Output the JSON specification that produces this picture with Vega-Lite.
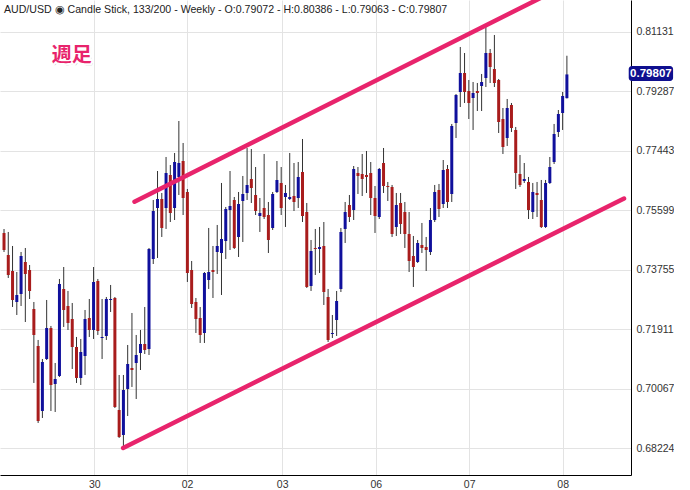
{
  "$schema": "https://vega.github.io/schema/vega-lite/v6.json",
  "width": 631,
  "height": 475,
  "padding": 0,
  "background": "white",
  "title": {
    "text": "AUD/USD  ◉  Candle Stick, 133/200 - Weekly - O:0.79072 - H:0.80386 - L:0.79063 - C:0.79807",
    "anchor": "start",
    "frame": "group",
    "offset": -16,
    "dx": 4,
    "font": "Liberation Sans",
    "fontSize": 10.6,
    "fontWeight": "normal",
    "color": "#222"
  },
  "config": {
    "view": {"stroke": null},
    "axis": {
      "grid": true,
      "gridColor": "#e3e3e3",
      "domainColor": "#000",
      "ticks": false,
      "tickSize": 0,
      "labelFont": "Liberation Sans",
      "labelFontSize": 10.5,
      "labelColor": "#333"
    },
    "axisX": {"labelPadding": 4},
    "axisY": {"labelPadding": 5}
  },
  "datasets": {
    "candles": [
      {"i":0,"o":0.74894,"h":0.75018,"l":0.74306,"c":0.74368},
      {"i":1,"o":0.74213,"h":0.74926,"l":0.73501,"c":0.73594},
      {"i":2,"o":0.73717,"h":0.74492,"l":0.72602,"c":0.72819},
      {"i":3,"o":0.72757,"h":0.73686,"l":0.72354,"c":0.72974},
      {"i":4,"o":0.73005,"h":0.74306,"l":0.72633,"c":0.74182},
      {"i":5,"o":0.73996,"h":0.7443,"l":0.72137,"c":0.73625},
      {"i":6,"o":0.73748,"h":0.73903,"l":0.7285,"c":0.73098},
      {"i":7,"o":0.7254,"h":0.72757,"l":0.70248,"c":0.71735},
      {"i":8,"o":0.71394,"h":0.7158,"l":0.69009,"c":0.6907},
      {"i":9,"o":0.6938,"h":0.70991,"l":0.69163,"c":0.70898},
      {"i":10,"o":0.70991,"h":0.72819,"l":0.7096,"c":0.71952},
      {"i":11,"o":0.71952,"h":0.72014,"l":0.6938,"c":0.70186},
      {"i":12,"o":0.70217,"h":0.70867,"l":0.69349,"c":0.70372},
      {"i":13,"o":0.70465,"h":0.7347,"l":0.70434,"c":0.73315},
      {"i":14,"o":0.7316,"h":0.73841,"l":0.71983,"c":0.72509},
      {"i":15,"o":0.72633,"h":0.73098,"l":0.7189,"c":0.72107},
      {"i":16,"o":0.7223,"h":0.72726,"l":0.70681,"c":0.71363},
      {"i":17,"o":0.71363,"h":0.71673,"l":0.70248,"c":0.70403},
      {"i":18,"o":0.70403,"h":0.71611,"l":0.70186,"c":0.71208},
      {"i":19,"o":0.71084,"h":0.72509,"l":0.70496,"c":0.7223},
      {"i":20,"o":0.72261,"h":0.7285,"l":0.71673,"c":0.7189},
      {"i":21,"o":0.7189,"h":0.73841,"l":0.71611,"c":0.73377},
      {"i":22,"o":0.73408,"h":0.7347,"l":0.71735,"c":0.71859},
      {"i":23,"o":0.71642,"h":0.7285,"l":0.70991,"c":0.71673},
      {"i":24,"o":0.71704,"h":0.72912,"l":0.7158,"c":0.7285},
      {"i":25,"o":0.72819,"h":0.73284,"l":0.72447,"c":0.7285},
      {"i":26,"o":0.72881,"h":0.72912,"l":0.69473,"c":0.69504},
      {"i":27,"o":0.69411,"h":0.70496,"l":0.68544,"c":0.68575},
      {"i":28,"o":0.68637,"h":0.70496,"l":0.68265,"c":0.70031},
      {"i":29,"o":0.70062,"h":0.71425,"l":0.69225,"c":0.70836},
      {"i":30,"o":0.70712,"h":0.72416,"l":0.70124,"c":0.7065},
      {"i":31,"o":0.70867,"h":0.71735,"l":0.69752,"c":0.71115},
      {"i":32,"o":0.71177,"h":0.7189,"l":0.7065,"c":0.71456},
      {"i":33,"o":0.71456,"h":0.72602,"l":0.71146,"c":0.7127},
      {"i":34,"o":0.71301,"h":0.7443,"l":0.71115,"c":0.74399},
      {"i":35,"o":0.74089,"h":0.75917,"l":0.73934,"c":0.75576},
      {"i":36,"o":0.75669,"h":0.76815,"l":0.7412,"c":0.75948},
      {"i":37,"o":0.75948,"h":0.76134,"l":0.74771,"c":0.7505},
      {"i":38,"o":0.75669,"h":0.77249,"l":0.75019,"c":0.76754},
      {"i":39,"o":0.76692,"h":0.77001,"l":0.75235,"c":0.75514},
      {"i":40,"o":0.75669,"h":0.77373,"l":0.75297,"c":0.77094},
      {"i":41,"o":0.7663,"h":0.78364,"l":0.76072,"c":0.77063},
      {"i":42,"o":0.77125,"h":0.77683,"l":0.75452,"c":0.75979},
      {"i":43,"o":0.76165,"h":0.76258,"l":0.73377,"c":0.73656},
      {"i":44,"o":0.73748,"h":0.74027,"l":0.72571,"c":0.72695},
      {"i":45,"o":0.72757,"h":0.72881,"l":0.71797,"c":0.7223},
      {"i":46,"o":0.72261,"h":0.72602,"l":0.71487,"c":0.71735},
      {"i":47,"o":0.71797,"h":0.73686,"l":0.71487,"c":0.73656},
      {"i":48,"o":0.73439,"h":0.7505,"l":0.7316,"c":0.73686},
      {"i":49,"o":0.73748,"h":0.74492,"l":0.72881,"c":0.73686},
      {"i":50,"o":0.74306,"h":0.75143,"l":0.73625,"c":0.74492},
      {"i":51,"o":0.74275,"h":0.76444,"l":0.72974,"c":0.74709},
      {"i":52,"o":0.74647,"h":0.757,"l":0.74089,"c":0.75638},
      {"i":53,"o":0.75607,"h":0.76815,"l":0.74368,"c":0.75731},
      {"i":54,"o":0.75917,"h":0.7601,"l":0.74399,"c":0.7443},
      {"i":55,"o":0.74771,"h":0.76165,"l":0.74151,"c":0.75793},
      {"i":56,"o":0.75886,"h":0.76661,"l":0.74616,"c":0.76103},
      {"i":57,"o":0.76134,"h":0.77528,"l":0.75917,"c":0.76382},
      {"i":58,"o":0.76568,"h":0.77497,"l":0.75824,"c":0.76289},
      {"i":59,"o":0.76072,"h":0.76939,"l":0.75452,"c":0.75576},
      {"i":60,"o":0.75421,"h":0.75979,"l":0.74926,"c":0.75514},
      {"i":61,"o":0.75669,"h":0.77342,"l":0.75328,"c":0.7539},
      {"i":62,"o":0.75452,"h":0.75855,"l":0.74275,"c":0.74678},
      {"i":63,"o":0.7505,"h":0.76165,"l":0.74988,"c":0.76103},
      {"i":64,"o":0.76165,"h":0.77125,"l":0.76134,"c":0.76537},
      {"i":65,"o":0.76444,"h":0.76939,"l":0.75452,"c":0.75669},
      {"i":66,"o":0.7601,"h":0.76382,"l":0.75081,"c":0.76134},
      {"i":67,"o":0.75948,"h":0.77373,"l":0.75917,"c":0.7601},
      {"i":68,"o":0.76041,"h":0.77063,"l":0.75576,"c":0.75855},
      {"i":69,"o":0.75979,"h":0.77094,"l":0.75669,"c":0.7663},
      {"i":70,"o":0.76784,"h":0.77807,"l":0.75235,"c":0.75421},
      {"i":71,"o":0.75545,"h":0.75824,"l":0.73191,"c":0.73222},
      {"i":72,"o":0.73253,"h":0.74678,"l":0.73098,"c":0.74337},
      {"i":73,"o":0.7443,"h":0.75019,"l":0.73594,"c":0.74399},
      {"i":74,"o":0.74399,"h":0.75081,"l":0.73656,"c":0.74461},
      {"i":75,"o":0.74492,"h":0.75235,"l":0.72664,"c":0.73067},
      {"i":76,"o":0.72912,"h":0.7316,"l":0.71518,"c":0.7158},
      {"i":77,"o":0.71766,"h":0.72354,"l":0.71642,"c":0.71797},
      {"i":78,"o":0.72199,"h":0.73098,"l":0.71704,"c":0.72788},
      {"i":79,"o":0.7316,"h":0.7505,"l":0.73067,"c":0.74926},
      {"i":80,"o":0.75019,"h":0.75855,"l":0.74585,"c":0.75545},
      {"i":81,"o":0.75762,"h":0.76072,"l":0.75235,"c":0.7539},
      {"i":82,"o":0.75607,"h":0.7697,"l":0.75297,"c":0.76877},
      {"i":83,"o":0.76754,"h":0.76939,"l":0.76103,"c":0.76661},
      {"i":84,"o":0.76723,"h":0.77342,"l":0.76041,"c":0.76568},
      {"i":85,"o":0.76692,"h":0.77435,"l":0.76134,"c":0.7663},
      {"i":86,"o":0.76754,"h":0.77094,"l":0.75452,"c":0.75979},
      {"i":87,"o":0.75979,"h":0.76351,"l":0.74895,"c":0.75421},
      {"i":88,"o":0.7539,"h":0.76908,"l":0.75328,"c":0.76877},
      {"i":89,"o":0.77063,"h":0.77528,"l":0.76134,"c":0.76351},
      {"i":90,"o":0.76351,"h":0.76475,"l":0.75886,"c":0.7632},
      {"i":91,"o":0.7632,"h":0.76382,"l":0.74771,"c":0.74864},
      {"i":92,"o":0.75081,"h":0.76134,"l":0.74802,"c":0.75762},
      {"i":93,"o":0.75824,"h":0.76134,"l":0.74864,"c":0.75174},
      {"i":94,"o":0.75545,"h":0.75855,"l":0.7443,"c":0.74864},
      {"i":95,"o":0.74864,"h":0.75545,"l":0.73686,"c":0.74027},
      {"i":96,"o":0.74182,"h":0.74802,"l":0.73222,"c":0.73841},
      {"i":97,"o":0.73996,"h":0.74678,"l":0.73965,"c":0.74585},
      {"i":98,"o":0.74523,"h":0.75205,"l":0.74275,"c":0.7443},
      {"i":99,"o":0.74461,"h":0.74771,"l":0.73717,"c":0.74368},
      {"i":100,"o":0.74306,"h":0.75669,"l":0.74213,"c":0.75297},
      {"i":101,"o":0.75297,"h":0.76382,"l":0.75235,"c":0.76165},
      {"i":102,"o":0.76227,"h":0.76413,"l":0.7539,"c":0.75638},
      {"i":103,"o":0.75793,"h":0.77156,"l":0.75669,"c":0.76846},
      {"i":104,"o":0.76877,"h":0.77001,"l":0.75669,"c":0.75855},
      {"i":105,"o":0.76103,"h":0.78272,"l":0.75855,"c":0.7821},
      {"i":106,"o":0.78303,"h":0.79201,"l":0.77838,"c":0.7917},
      {"i":107,"o":0.79263,"h":0.80657,"l":0.78798,"c":0.79852},
      {"i":108,"o":0.79852,"h":0.80471,"l":0.78922,"c":0.79263},
      {"i":109,"o":0.79294,"h":0.79635,"l":0.78426,"c":0.78922},
      {"i":110,"o":0.79077,"h":0.79573,"l":0.78086,"c":0.79232},
      {"i":111,"o":0.79294,"h":0.79542,"l":0.78674,"c":0.79232},
      {"i":112,"o":0.79449,"h":0.79821,"l":0.78674,"c":0.79573},
      {"i":113,"o":0.79697,"h":0.81308,"l":0.79418,"c":0.80471},
      {"i":114,"o":0.80471,"h":0.80595,"l":0.79542,"c":0.80037},
      {"i":115,"o":0.79975,"h":0.81029,"l":0.79418,"c":0.79542},
      {"i":116,"o":0.79635,"h":0.79666,"l":0.77993,"c":0.78333},
      {"i":117,"o":0.78426,"h":0.78767,"l":0.77342,"c":0.77559},
      {"i":118,"o":0.77838,"h":0.79046,"l":0.7759,"c":0.78767},
      {"i":119,"o":0.7886,"h":0.78922,"l":0.78024,"c":0.78148},
      {"i":120,"o":0.78086,"h":0.78179,"l":0.76258,"c":0.76754},
      {"i":121,"o":0.76723,"h":0.77311,"l":0.7632,"c":0.76382},
      {"i":122,"o":0.76506,"h":0.77063,"l":0.76444,"c":0.76568},
      {"i":123,"o":0.76475,"h":0.7663,"l":0.75328,"c":0.75607},
      {"i":124,"o":0.75545,"h":0.76444,"l":0.75328,"c":0.76165},
      {"i":125,"o":0.76134,"h":0.76475,"l":0.7539,"c":0.76072},
      {"i":126,"o":0.75917,"h":0.76537,"l":0.7505,"c":0.75081},
      {"i":127,"o":0.75081,"h":0.76537,"l":0.7505,"c":0.76444},
      {"i":128,"o":0.76444,"h":0.77249,"l":0.76413,"c":0.76939},
      {"i":129,"o":0.77094,"h":0.78272,"l":0.77032,"c":0.77962},
      {"i":130,"o":0.78024,"h":0.78705,"l":0.77869,"c":0.78581},
      {"i":131,"o":0.78612,"h":0.79263,"l":0.78086,"c":0.79139},
      {"i":132,"o":0.79072,"h":0.80386,"l":0.79063,"c":0.79807}
    ],
    "trend": [
      {"line":"upper","i":30.6,"p":0.75864},
      {"line":"upper","i":129.5,"p":0.8242},
      {"line":"lower","i":27.93,"p":0.68234},
      {"line":"lower","i":145.4,"p":0.7596}
    ],
    "last": [
      {"i":146.5,"i2":156.9,"y1":0.79604,"y2":0.80068,"im":151.7,"p":0.79807,"label":"0.79807"}
    ],
    "notes": [
      {"i":15.9,"p":0.80378,"label":"週足"}
    ]
  },
  "encoding": {
    "x": {
      "field": "i",
      "type": "quantitative",
      "title": null,
      "scale": {"domain": [0.2308, 145.86], "nice": false, "zero": false},
      "axis": {
        "title": null,
        "values": [21.16, 42.93, 65.24, 87.17, 109.09, 131.02],
        "labelExpr": "datum.value < 30 ? '30' : datum.value < 50 ? '02' : datum.value < 70 ? '03' : datum.value < 90 ? '06' : datum.value < 120 ? '07' : '08'"
      }
    }
  },
  "layer": [
    {
      "data": {"name": "candles"},
      "mark": {"type": "rule", "color": "#333", "strokeWidth": 1, "clip": true},
      "encoding": {
        "y": {
          "field": "l",
          "type": "quantitative",
          "title": null,
          "scale": {"domain": [0.67397, 0.82113], "nice": false, "zero": false},
          "axis": {
            "orient": "right",
            "title": null,
            "values": [0.68224, 0.70067, 0.71911, 0.73755, 0.75599, 0.77443, 0.79287, 0.81131],
            "format": ".5f"
          }
        },
        "y2": {"field": "h"}
      }
    },
    {
      "data": {"name": "candles"},
      "mark": {"type": "bar", "size": 3, "clip": true},
      "encoding": {
        "y": {
          "field": "o",
          "type": "quantitative",
          "title": null,
          "scale": {"domain": [0.67397, 0.82113], "nice": false, "zero": false}
        },
        "y2": {"field": "c"},
        "color": {
          "condition": {"test": "datum.o < datum.c", "value": "#10109c"},
          "value": "#a81c1c"
        }
      }
    },
    {
      "mark": {"type": "rule", "color": "#000", "strokeWidth": 1, "strokeDash": [3, 2]},
      "encoding": {
        "y": {"datum": 0.79807, "type": "quantitative", "scale": {"domain": [0.67397, 0.82113], "nice": false, "zero": false}}
      }
    },
    {
      "data": {"name": "trend"},
      "mark": {"type": "line", "color": "#e8246c", "strokeWidth": 4.5, "strokeCap": "round", "clip": true},
      "encoding": {
        "y": {
          "field": "p",
          "type": "quantitative",
          "title": null,
          "scale": {"domain": [0.67397, 0.82113], "nice": false, "zero": false}
        },
        "detail": {"field": "line"}
      }
    },
    {
      "data": {"name": "last"},
      "mark": {"type": "rect", "color": "#0f0f8f", "cornerRadius": 3, "clip": false},
      "encoding": {
        "x2": {"field": "i2"},
        "y": {
          "field": "y1",
          "type": "quantitative",
          "title": null,
          "scale": {"domain": [0.67397, 0.82113], "nice": false, "zero": false}
        },
        "y2": {"field": "y2"}
      }
    },
    {
      "data": {"name": "last"},
      "mark": {"type": "text", "color": "white", "font": "Liberation Sans", "fontSize": 11.5, "fontWeight": "bold", "align": "center", "baseline": "middle", "clip": false},
      "encoding": {
        "x": {"field": "im", "type": "quantitative", "title": null, "scale": {"domain": [0.2308, 145.86], "nice": false, "zero": false}},
        "y": {
          "field": "p",
          "type": "quantitative",
          "title": null,
          "scale": {"domain": [0.67397, 0.82113], "nice": false, "zero": false}
        },
        "text": {"field": "label"}
      }
    },
    {
      "data": {"name": "notes"},
      "mark": {"type": "text", "color": "#9a9a9a", "font": "Noto Sans CJK JP", "fontSize": 20, "fontWeight": "bold", "align": "center", "baseline": "middle", "dx": 1.5, "dy": 2, "opacity": 0.7},
      "encoding": {
        "y": {"field": "p", "type": "quantitative", "title": null, "scale": {"domain": [0.67397, 0.82113], "nice": false, "zero": false}},
        "text": {"field": "label"}
      }
    },
    {
      "data": {"name": "notes"},
      "mark": {"type": "text", "color": "white", "stroke": "white", "strokeWidth": 4, "strokeJoin": "round", "font": "Noto Sans CJK JP", "fontSize": 20, "fontWeight": "bold", "align": "center", "baseline": "middle"},
      "encoding": {
        "y": {"field": "p", "type": "quantitative", "title": null, "scale": {"domain": [0.67397, 0.82113], "nice": false, "zero": false}},
        "text": {"field": "label"}
      }
    },
    {
      "data": {"name": "notes"},
      "mark": {"type": "text", "color": "#e8246c", "font": "Noto Sans CJK JP", "fontSize": 20, "fontWeight": "bold", "align": "center", "baseline": "middle"},
      "encoding": {
        "y": {"field": "p", "type": "quantitative", "title": null, "scale": {"domain": [0.67397, 0.82113], "nice": false, "zero": false}},
        "text": {"field": "label"}
      }
    }
  ]
}
